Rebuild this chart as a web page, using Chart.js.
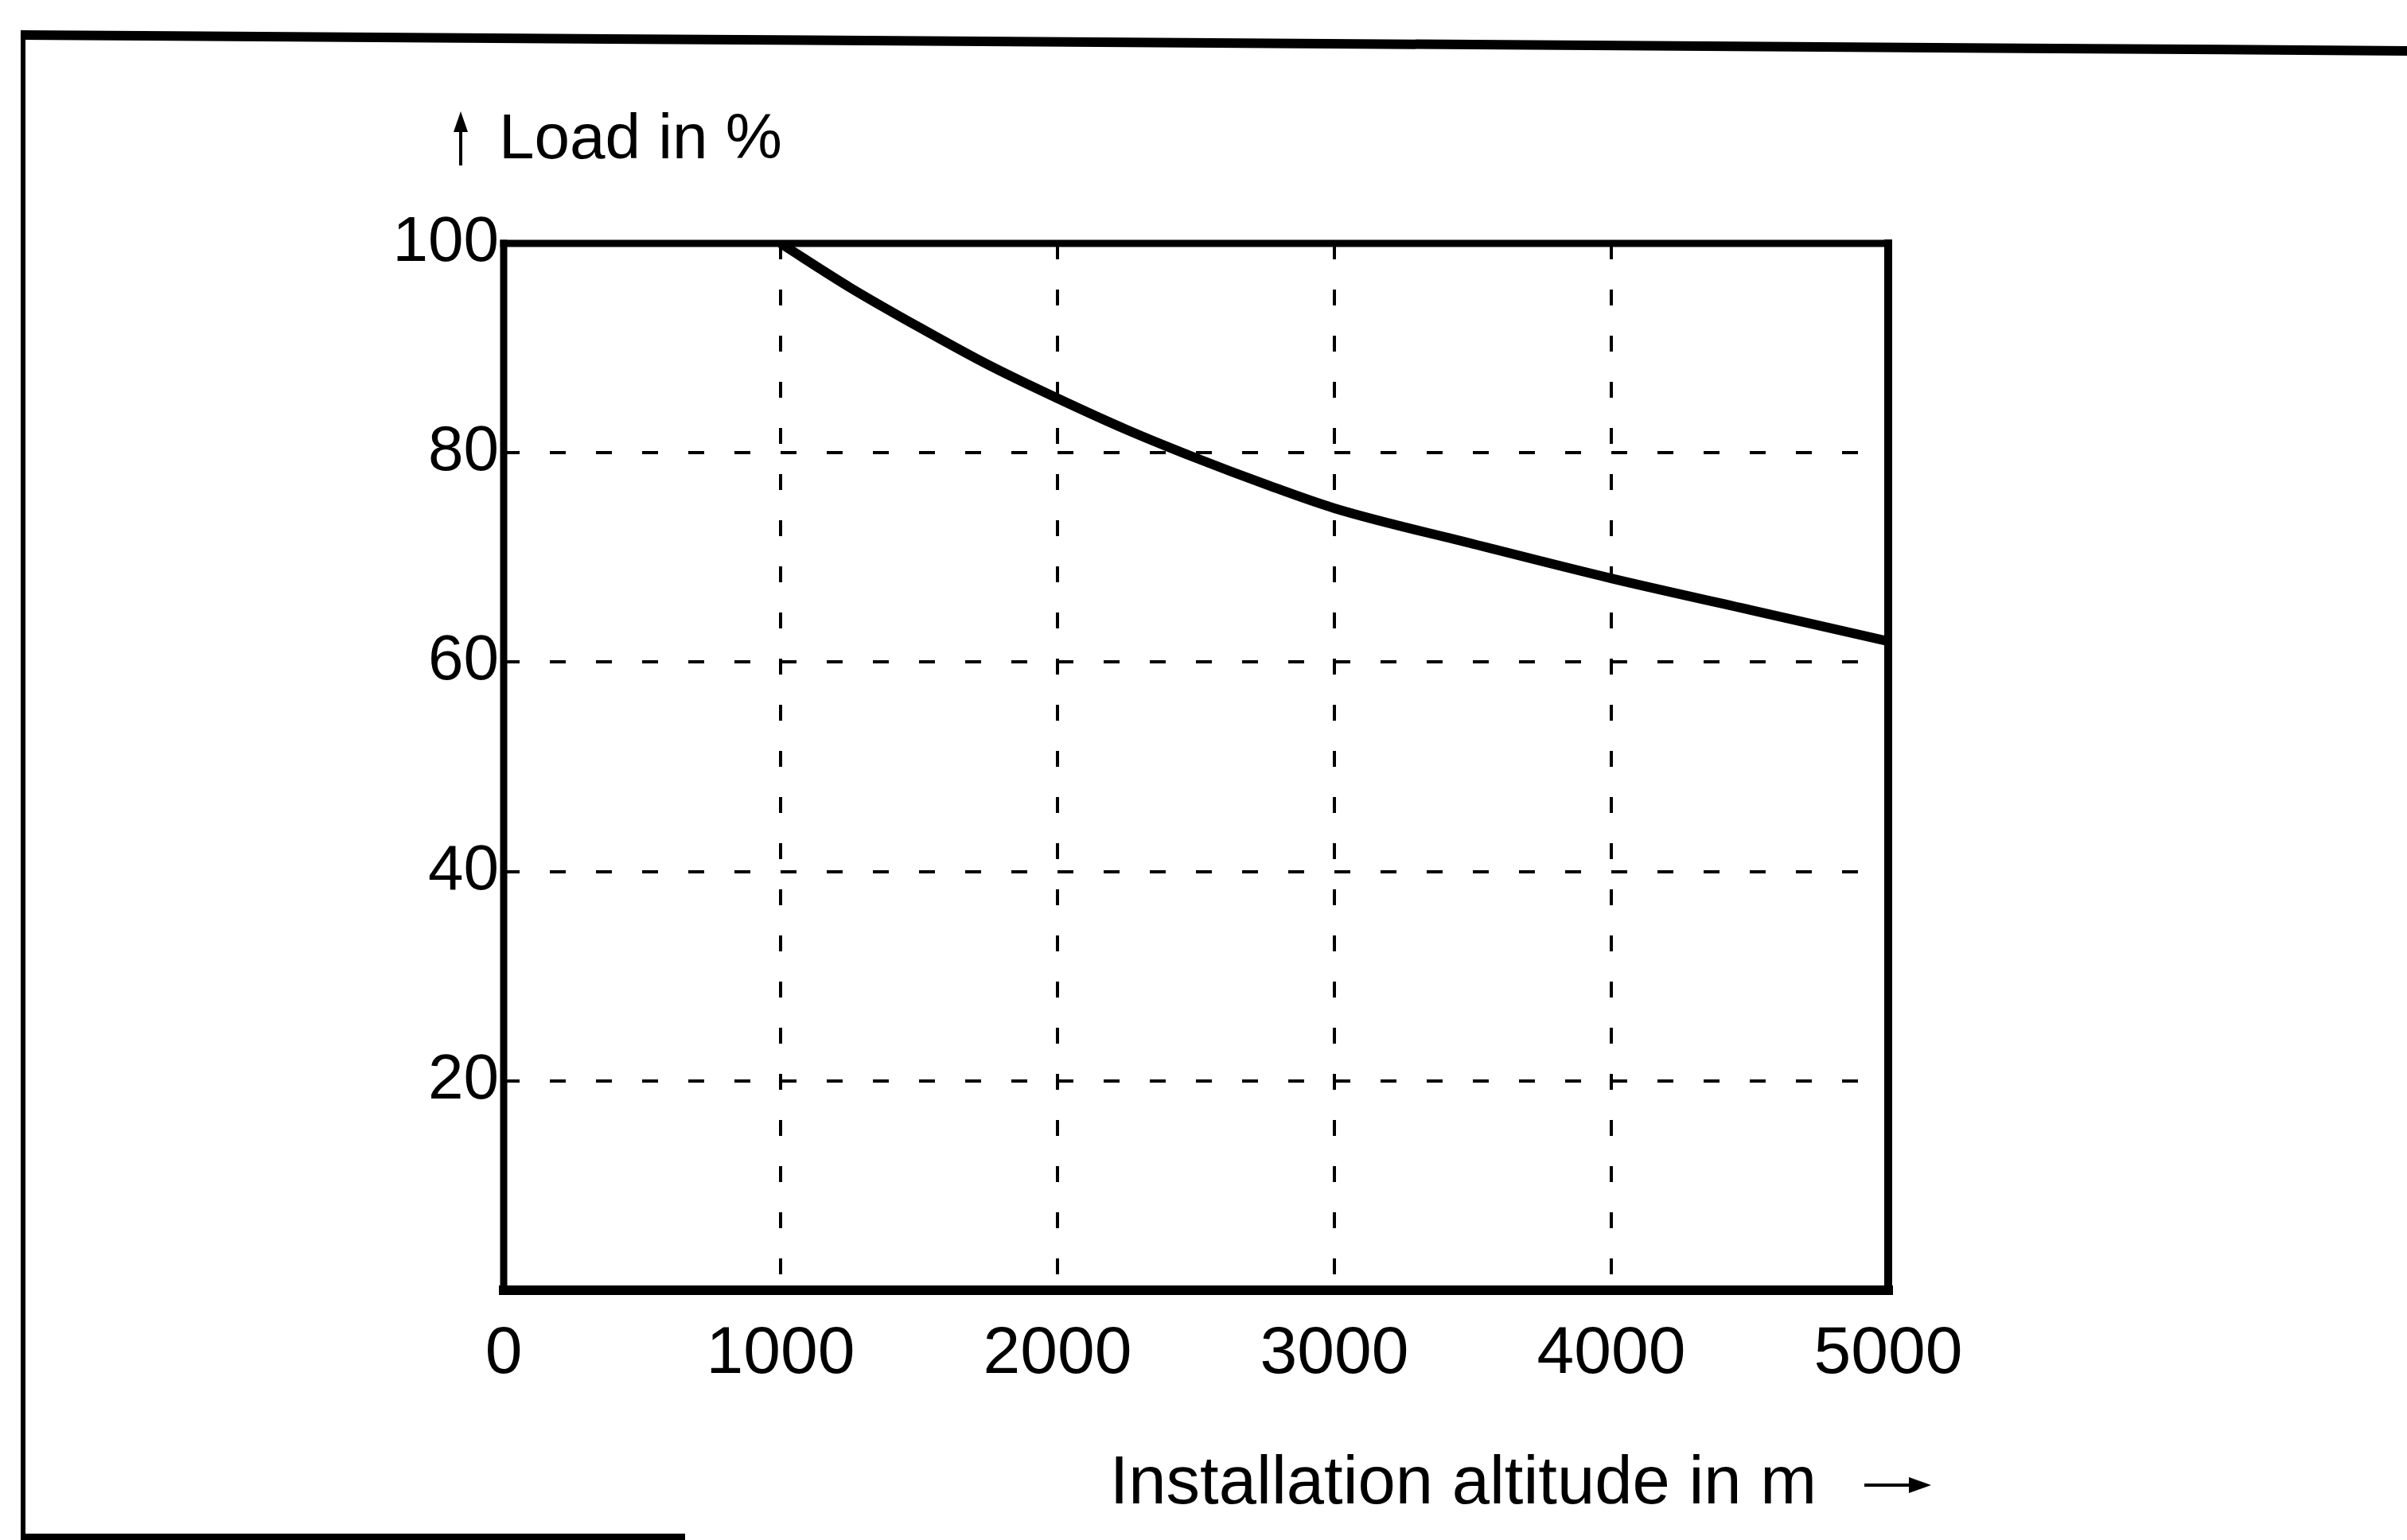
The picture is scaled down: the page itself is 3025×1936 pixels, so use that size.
<!DOCTYPE html>
<html>
<head>
<meta charset="utf-8">
<script src="https://cdn.jsdelivr.net/npm/chart.js@4/dist/chart.umd.min.js"></script>
<style>
  html, body { margin: 0; padding: 0; background: #fff; }
  #wrap { position: relative; width: 3025px; height: 1936px; overflow: hidden; }
  #chart { position: absolute; left: 0; top: 0; }
  .frame-top { position: absolute; left: 26px; top: 38px; width: 3020px; height: 12px; background: #000; transform: rotate(0.38deg); transform-origin: 0 0; }
  .frame-left { position: absolute; left: 26px; top: 38px; width: 6px; height: 1910px; background: #000; }
  .frame-bottom { position: absolute; left: 26px; top: 1928px; width: 835px; height: 8px; background: #000; }
</style>
</head>
<body>
<div id="wrap">
  <div class="frame-top"></div>
  <div class="frame-left"></div>
  <div class="frame-bottom"></div>
  <canvas id="chart" width="3025" height="1936"></canvas>
</div>
<script>
// altitude (m) vs permissible load (%)
const altitudes = [1000, 1250, 1500, 1750, 2000, 2250, 2500, 2750, 3000, 3500, 4000, 4500, 5000];
const loads = [100, 95.8, 92, 88.4, 85.2, 82.2, 79.5, 77, 74.7, 71.3, 68, 65, 62];

const yTicks = [0, 20, 40, 60, 80, 100];
const xTicks = [0, 1000, 2000, 3000, 4000, 5000];

const yTitle = "Load in %";
const xTitle = "Installation altitude in m";

const FONT = "'Liberation Sans', Arial, Helvetica, sans-serif";

// frame around the plot area + axis titles
const framePlugin = {
  id: "frame",
  afterDatasetsDraw(chart) {
    const { ctx, chartArea: a } = chart;
    ctx.save();
    ctx.strokeStyle = "#000";
    ctx.lineCap = "square";
    const line = (x1, y1, x2, y2, w) => {
      ctx.lineWidth = w;
      ctx.beginPath();
      ctx.moveTo(x1, y1);
      ctx.lineTo(x2, y2);
      ctx.stroke();
    };
    line(a.left, a.top, a.right, a.top, 9);
    line(a.left, a.top, a.left, a.bottom, 9);
    line(a.left, a.bottom, a.right, a.bottom, 12);
    line(a.right, a.top, a.right, a.bottom, 10);
    ctx.restore();
  },
  afterDraw(chart) {
    const { ctx, chartArea: a } = chart;
    ctx.save();
    ctx.fillStyle = "#000";
    ctx.strokeStyle = "#000";
    ctx.font = "80px " + FONT;
    ctx.textBaseline = "alphabetic";
    ctx.textAlign = "left";
    ctx.fillText(yTitle, a.left - 6, a.top - 107);

    // up arrow before the y title
    const ax = a.left - 54;
    ctx.lineWidth = 4;
    ctx.beginPath();
    ctx.moveTo(ax, a.top - 98);
    ctx.lineTo(ax, a.top - 158);
    ctx.stroke();
    ctx.beginPath();
    ctx.moveTo(ax, a.top - 166);
    ctx.lineTo(ax - 9, a.top - 140);
    ctx.lineTo(ax + 9, a.top - 140);
    ctx.closePath();
    ctx.fill();

    ctx.font = "85px " + FONT;
    ctx.textAlign = "right";
    ctx.fillText(xTitle, a.right - 90, a.bottom + 268);

    // right arrow after the x title
    const ay = a.bottom + 245;
    ctx.lineWidth = 4;
    ctx.beginPath();
    ctx.moveTo(a.right - 30, ay);
    ctx.lineTo(a.right + 40, ay);
    ctx.stroke();
    ctx.beginPath();
    ctx.moveTo(a.right + 54, ay);
    ctx.lineTo(a.right + 26, ay - 10);
    ctx.lineTo(a.right + 26, ay + 10);
    ctx.closePath();
    ctx.fill();
    ctx.restore();
  },
};

const hideEdges = (c) => (c.tick.value === 0 || c.tick.value === 100 || c.tick.value === 5000 ? "rgba(0,0,0,0)" : "#000");

new Chart(document.getElementById("chart").getContext("2d"), {
  type: "line",
  data: {
    datasets: [
      {
        data: altitudes.map((x, i) => ({ x: x, y: loads[i] })),
        borderColor: "#000",
        borderWidth: 12,
        pointRadius: 0,
        fill: false,
        cubicInterpolationMode: "monotone",
      },
    ],
  },
  options: {
    responsive: false,
    devicePixelRatio: 1,
    animation: false,
    layout: { padding: { left: 0, top: 306, right: 652, bottom: 0 } },
    plugins: {
      legend: { display: false },
      tooltip: { enabled: false },
    },
    scales: {
      x: {
        type: "linear",
        min: 0,
        max: 5000,
        afterBuildTicks: (s) => { s.ticks = xTicks.map((v) => ({ value: v })); },
        afterFit: (s) => { s.height = 314; },
        grid: { color: hideEdges, lineWidth: 4, drawTicks: false },
        border: { display: false, dash: [20, 38] },
        ticks: {
          color: "#000",
          padding: 30,
          maxRotation: 0,
          font: { family: FONT, size: 84 },
          callback: (v) => String(v),
        },
      },
      y: {
        min: 0,
        max: 100,
        afterBuildTicks: (s) => { s.ticks = yTicks.map((v) => ({ value: v })); },
        afterFit: (s) => { s.width = 633; },
        grid: { color: hideEdges, lineWidth: 4, drawTicks: false },
        border: { display: false, dash: [20, 38] },
        ticks: {
          color: "#000",
          padding: 6,
          font: { family: FONT, size: 80 },
          callback: (v) => (v === 0 ? "" : String(v)),
        },
      },
    },
  },
  plugins: [framePlugin],
});
</script>
</body>
</html>
